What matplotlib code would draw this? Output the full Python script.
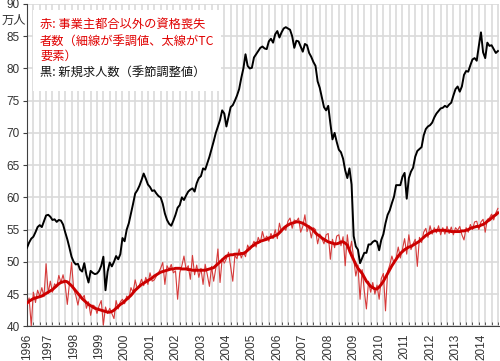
import numpy as np
import matplotlib
matplotlib.use('Agg')
import matplotlib.pyplot as plt
from matplotlib.patches import Rectangle

# monthly data, starting March 1996 (万人)
start_year, start_month = 1996, 3
years = list(range(1996, 2015))

# 黒: 新規求人数 (季節調整値)
black = [52.2, 53.0, 53.6, 53.9, 54.6, 55.4, 55.7, 55.4, 56.3, 57.2,
         57.3, 57.0, 56.5, 56.6, 56.2, 56.5, 56.4, 55.8, 54.6, 53.5,
         52.2, 50.8, 50.0, 49.6, 49.7, 48.8, 48.5, 49.8, 48.0, 46.8,
         48.6, 48.3, 48.1, 48.2, 48.6, 49.4, 50.8, 45.6,
         48.5, 49.9, 49.3, 50.0, 50.9, 50.4, 51.2, 53.7, 53.2, 55.0, 56.0, 57.5,
         59.0, 60.6, 61.1, 61.8, 62.7, 63.7, 62.9, 62.0, 61.6, 61.0,
         61.1, 60.6, 60.2, 60.0, 59.0, 57.5, 56.5, 55.9, 55.6, 56.4,
         57.3, 58.4, 58.8, 60.0, 59.6, 60.3, 60.9, 61.2, 61.4, 60.9,
         62.2, 63.0, 63.3, 64.5, 64.3, 65.3, 66.3, 67.5, 68.7, 70.0,
         71.0, 72.0, 73.5, 73.0, 71.0, 72.5, 74.0, 74.3, 75.0, 75.8,
         76.8, 78.5, 80.0, 82.2, 80.4, 80.0, 80.1, 81.7, 82.2, 82.7,
         83.2, 83.4, 83.1, 83.0, 84.2, 84.6, 84.0, 85.3, 85.8, 84.8,
         85.6, 86.2, 86.4, 86.2, 86.0, 85.0, 83.2, 84.3, 84.2, 83.4,
         82.6, 83.8, 83.6, 82.4, 81.8, 81.0, 80.4, 78.0, 77.0, 75.5,
         74.0, 73.5, 74.2, 71.5, 69.0, 70.0, 68.6, 67.4, 67.0, 66.0,
         64.2, 63.0, 64.5, 62.0, 54.0, 52.4, 51.9, 49.8, 50.6, 51.4,
         51.4, 52.7, 52.7, 53.1, 53.3, 53.1, 51.8, 53.4, 54.3, 56.0,
         57.3, 58.0, 59.1, 60.1, 61.9, 61.9, 61.9, 63.2, 63.8, 59.8,
         63.0, 64.0, 64.6, 66.3, 67.2, 67.5, 67.8, 69.6, 70.6, 71.0,
         71.2, 71.6, 72.4, 73.0, 73.4, 73.8, 73.9, 74.2, 74.0, 74.4,
         74.7, 75.8, 76.8, 77.2, 76.4, 77.2, 79.0, 79.6, 79.5, 80.5,
         81.4, 81.6, 81.2, 83.5, 85.6, 82.5, 81.6, 84.0, 83.5, 83.6,
         83.0, 82.4, 82.7]

# 赤(太線): TC要素
red_tc = [43.6, 43.9, 44.1, 44.3, 44.4, 44.5, 44.6, 44.7, 44.9, 45.1,
          45.3, 45.5, 45.7, 46.0, 46.3, 46.6, 46.8, 46.9, 47.0, 46.9,
          46.6, 46.3, 45.9, 45.5, 45.1, 44.7, 44.3, 44.0, 43.7, 43.4,
          43.2, 43.0, 42.8, 42.7, 42.6, 42.5, 42.4, 42.3, 42.2, 42.2,
          42.3, 42.5, 42.8, 43.1, 43.4, 43.6, 43.9, 44.2, 44.5, 44.8,
          45.2, 45.6, 45.9, 46.2, 46.5, 46.7, 46.9, 47.1, 47.3, 47.5,
          47.8, 48.0, 48.2, 48.4, 48.5, 48.6, 48.7, 48.8, 48.9, 48.9,
          49.0, 49.0, 49.0, 48.9, 48.9, 48.9, 48.8, 48.8, 48.7, 48.7,
          48.7, 48.7, 48.7, 48.7, 48.7, 48.8, 48.9, 49.0, 49.1, 49.4,
          49.7, 50.0, 50.3, 50.6, 50.9, 51.0, 51.1, 51.1, 51.2, 51.2,
          51.2, 51.3, 51.3, 51.5, 51.8, 52.1, 52.4, 52.6, 52.9, 53.0,
          53.2, 53.3, 53.4, 53.5, 53.7, 53.8, 53.9, 54.1, 54.2, 54.5,
          54.9, 55.2, 55.5, 55.7, 55.9, 56.0, 56.1, 56.2, 56.2, 56.1,
          56.0, 55.8, 55.6, 55.4, 55.2, 54.9, 54.5, 54.2, 54.0, 53.7,
          53.5, 53.3, 53.1, 53.0, 52.9, 52.8, 52.8, 52.9, 53.1, 53.1,
          52.9, 52.6, 51.8, 51.0, 50.3, 49.6, 49.0, 48.6, 48.2, 47.6,
          47.0, 46.6, 46.2, 46.0, 45.8, 45.8, 46.1, 46.5, 47.0, 47.6,
          48.2, 48.8, 49.4, 49.9, 50.4, 50.9, 51.3, 51.6, 51.9, 52.1,
          52.3, 52.4, 52.6, 52.8, 53.0, 53.2, 53.5, 53.8, 54.1, 54.3,
          54.5, 54.7, 54.8, 54.9, 54.9, 54.9, 54.9, 54.9, 54.8, 54.8,
          54.7, 54.7, 54.7, 54.7, 54.7, 54.8, 54.8, 54.9, 55.0, 55.2,
          55.3, 55.4, 55.5, 55.5, 55.7, 55.8, 56.0, 56.3, 56.5, 56.8,
          57.1, 57.3, 57.6]

# 赤(細線): 事業主都合以外の資格喪失者数 季調値
red_sa = [43.5, 44.4, 40.1, 45.3, 43.7, 45.6, 44.7, 46.0, 44.6, 49.7,
          45.1, 47.0, 45.3, 46.6, 46.1, 47.9, 46.8, 48.0, 46.4, 43.4,
          46.6, 49.9, 45.8, 44.8, 43.3, 45.0, 44.3, 44.8, 42.8, 43.8,
          41.7, 43.3, 43.1, 42.0, 43.2, 44.0, 40.2, 43.0, 42.0, 42.8, 42.0, 41.2,
          44.0, 42.7, 43.8, 44.2, 43.5, 44.7, 44.2, 46.0,
          45.3, 47.2, 45.8, 46.4, 47.3, 46.3, 47.6, 46.5, 48.3, 47.0,
          47.2, 47.8, 48.3, 49.0, 49.9, 46.5, 49.4, 48.8, 49.6, 48.3,
          48.6, 44.2, 48.3, 49.4, 50.9, 48.8, 49.4, 47.3, 51.0,
          48.0, 49.5, 47.6, 49.0, 46.5, 49.6, 48.0, 46.2, 49.3, 47.0,
          49.0, 52.0, 46.8, 50.5, 49.8, 50.5, 51.5, 49.3, 47.0, 51.0,
          50.5, 52.0, 50.6, 51.5, 50.8, 52.6, 51.9, 52.4, 53.2, 52.3,
          53.8, 53.0, 54.7, 53.4, 54.0, 53.2, 54.4, 53.6,
          55.0, 53.6, 56.0, 54.6, 55.4, 54.9, 56.3, 56.8, 55.2, 56.5,
          56.3, 56.8, 54.6, 55.5, 57.3, 54.7, 55.6, 53.7, 55.3, 55.0,
          52.8, 54.3, 53.6, 52.8, 54.2, 54.4, 50.4, 53.5, 52.2, 54.0,
          54.2, 52.5, 53.9, 49.4, 54.2, 51.4, 53.2, 50.5, 47.8, 49.5,
          44.2, 48.8, 45.5, 42.7, 47.0, 45.3, 46.8, 45.0, 46.4, 44.2,
          47.4, 48.2, 42.4, 48.5, 49.5, 50.9, 49.8, 50.6, 52.3, 50.6,
          52.0, 53.6, 51.2, 54.2, 51.9, 52.8, 53.5, 49.3,
          53.8, 53.0, 54.6, 55.2, 53.8, 55.6, 54.3, 55.3, 54.5, 55.6,
          54.2, 55.3, 54.3, 55.5, 54.4, 55.4, 54.2, 55.3, 54.9, 55.5,
          54.2, 53.4, 55.3, 54.6, 55.8, 55.0, 56.2, 56.3, 55.0, 56.2,
          56.6, 54.6, 56.6, 56.8, 57.4, 56.5, 57.6, 58.3]

red_text = '赤: 事業主都合以外の資格喪失\n者数（細線が季調値、太線がTC\n要素）'
black_text = '黒: 新規求人数（季節調整値）'

plt.rcParams['font.family'] = ['Liberation Sans', 'Noto Sans CJK JP']

fig = plt.figure(figsize=(5, 3.61), dpi=100)
ax = fig.add_axes([0.054, 0.096, 0.944, 0.893])

x = np.arange(len(black))
ax.plot(x, red_sa, color='#d63a3a', lw=0.8, zorder=3)
ax.plot(x, red_tc, color='#cc0000', lw=2.1, zorder=4)
ax.plot(x, black, color='black', lw=1.4, zorder=5)

ax.set_xlim(0, len(black) - 0.5)
ax.set_ylim(40, 90)
ax.set_yticks(range(40, 91, 5))

# year labels at January, first one at the start of the data
ticks = [max(0, (y - start_year) * 12 - (start_month - 1)) for y in years]
ax.set_xticks(ticks)
ax.set_xticklabels([str(y) for y in years], rotation=90, fontsize=8.5, color='#333333')
ax.set_xticks(np.arange(0, len(black), 3), minor=True)
ax.tick_params(axis='x', which='major', length=0, pad=5)
ax.tick_params(axis='x', which='minor', direction='in', length=3, color='#404040')
ax.tick_params(axis='y', length=3, color='#404040', labelsize=8.5, labelcolor='#333333', pad=2)

ax.grid(which='minor', axis='x', color='#dadada', lw=1.2)
ax.grid(which='major', axis='y', color='#dadada', lw=1.2)
ax.set_axisbelow(True)
for s in ['top', 'right']:
    ax.spines[s].set_visible(False)
for s in ['left', 'bottom']:
    ax.spines[s].set_color('#404040')

ax.add_patch(Rectangle((0.012, 0.73), 0.40, 0.25, transform=ax.transAxes,
                       facecolor='white', edgecolor='none', zorder=2))

cjk = ['Noto Sans CJK JP', 'DejaVu Sans']
fig.text(40 / 500, 1 - 19 / 361, red_text, color='#e00000', fontsize=8.8,
         va='top', ha='left', linespacing=1.25, family=cjk)
fig.text(40 / 500, 1 - 66 / 361, black_text, color='#111111', fontsize=8.8,
         va='top', ha='left', family=cjk)
fig.text(2 / 500, 1 - 20 / 361, '万人', color='#333333', fontsize=8.8,
         va='center', ha='left', family=cjk)

fig.savefig('out.png', dpi=100)
